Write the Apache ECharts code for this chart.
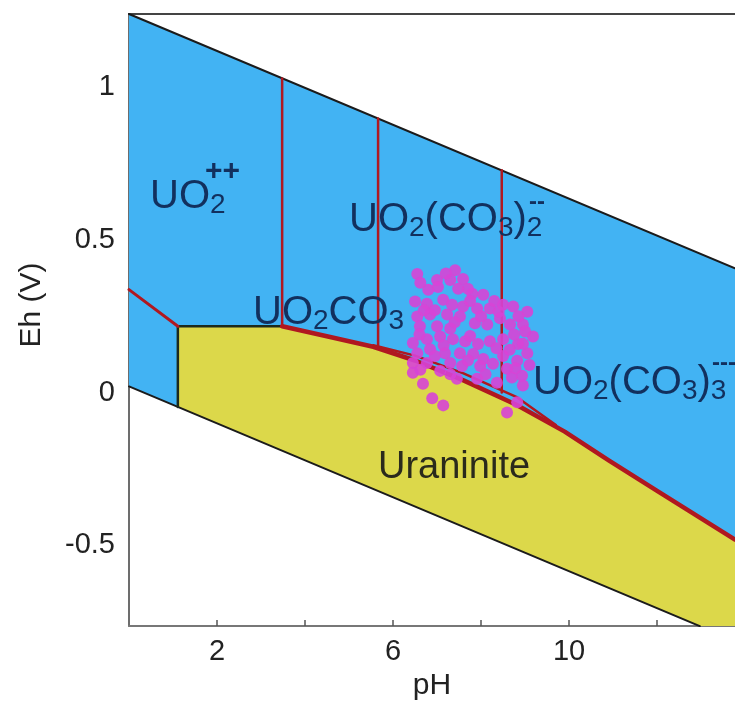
<!DOCTYPE html>
<html>
<head>
<meta charset="utf-8">
<title>Eh-pH uranium</title>
<script src="https://cdn.jsdelivr.net/npm/echarts@6.0.0/dist/echarts.min.js"></script>
<style>
  html, body { margin: 0; padding: 0; background: #fff; }
  #main { width: 735px; height: 706px; }
</style>
</head>
<body>
<div id="main"></div>
<script>
// axis ranges and ticks
var phMin = 0, phMax = 13.77;
var ehMin = -0.765, ehMax = 1.24;
var phTicks = [2, 4, 6, 8, 10, 12];
var phTickLabels = [2, 6, 10];
var ehTickLabels = [-0.5, 0, 0.5, 1];

// water stability limits
var waterUpper = [[0, 1.24], [13.77, 0.407]];
var waterLower = [[0, 0.02], [12.97, -0.765]];

// uraninite field edges
var uraniniteLeft = [[1.11, -0.047], [1.11, 0.217]];
var uraniniteTop = [[1.11, 0.217], [3.48, 0.217]];
var uraniniteBoundary = [[3.48, 0.217], [4.57, 0.182], [5.55, 0.150], [6.5, 0.105], [7.6, 0.040],
    [8.8, -0.040], [9.9, -0.128], [10.9, -0.222], [12.0, -0.322], [13.77, -0.482]];
var carbonateBoundary = [[5.55, 0.155], [6.5, 0.121], [7.6, 0.063], [8.8, -0.014], [9.7, -0.106]];

// aqueous species boundaries
var uo2Boundary = [[0, 0.337], [1.11, 0.217]];
var speciesVerticals = [
    [[3.48, 1.029], [3.48, 0.217]],
    [[5.66, 0.898], [5.66, 0.153]],
    [[8.47, 0.728], [8.47, 0.0]]
];

// groundwater samples
var samplePh = [6.55, 7.41, 7.59, 7.00, 6.80, 7.02, 7.30, 7.80, 8.05, 6.50,
    6.77, 7.14, 7.34, 7.59, 7.91, 8.20, 8.50, 8.73, 9.05, 6.55,
    6.84, 7.23, 7.52, 7.86, 8.14, 8.43, 8.66, 8.95, 9.18, 6.61,
    7.00, 7.30, 6.45, 6.77, 7.07, 7.36, 7.64, 7.93, 8.20, 8.50,
    8.84, 9.05, 6.55, 6.84, 7.18, 7.52, 7.82, 8.05, 8.50, 8.82,
    6.45, 6.77, 7.30, 7.57, 7.98, 8.27, 8.59, 8.93, 6.45, 7.07,
    7.45, 7.91, 8.36, 8.70, 8.95, 6.68, 6.89, 7.14, 8.59, 8.82,
    7.70, 6.95, 7.75, 8.40, 8.85, 6.95, 7.70, 8.65, 9.10, 6.62,
    7.20, 7.48, 8.30, 6.70, 7.40, 8.00, 8.75, 6.60, 7.15, 7.75,
    8.35, 8.95, 6.62, 7.30, 8.10, 8.78, 9.00];
var sampleEh = [0.388, 0.401, 0.372, 0.369, 0.337, 0.346, 0.369, 0.324, 0.320, 0.298,
    0.291, 0.304, 0.288, 0.282, 0.275, 0.275, 0.288, 0.282, 0.265, 0.249,
    0.256, 0.256, 0.249, 0.227, 0.223, 0.243, 0.223, 0.223, 0.184, 0.217,
    0.217, 0.210, 0.162, 0.175, 0.184, 0.175, 0.168, 0.159, 0.168, 0.175,
    0.159, 0.129, 0.129, 0.142, 0.129, 0.129, 0.126, 0.110, 0.120, 0.104,
    0.097, 0.097, 0.097, 0.087, 0.087, 0.094, 0.078, 0.055, 0.065, 0.071,
    0.045, 0.045, 0.032, 0.049, 0.023, 0.029, -0.019, -0.042, -0.065, -0.032,
    0.340, 0.270, 0.300, 0.265, 0.250, 0.120, 0.105, 0.140, 0.090, 0.360,
    0.390, 0.340, 0.300, 0.270, 0.230, 0.250, 0.190, 0.190, 0.155, 0.185,
    0.145, 0.160, 0.075, 0.060, 0.060, 0.080, 0.200];

var blueField = [[0, 1.24], [13.77, 0.407], [13.77, -0.765], [12.97, -0.765], [0, 0.02]];
var yellowField = uraniniteLeft.concat(uraniniteBoundary, [[13.77, -0.765], [12.97, -0.765]]);

var font = 'Liberation Sans, Arial, sans-serif';
var navy = '#12305e';
var red = '#b01820';

function polygonSeries(points, color, z) {
    return {
        type: 'custom',
        silent: true,
        z: z,
        renderItem: function(params, api) {
            if (params.dataIndex !== 0) {
                return null;
            }
            var pts = points.map(function(p) { return api.coord(p); });
            return {
                type: 'polygon',
                shape: { points: pts },
                style: { fill: color }
            };
        },
        data: points
    };
}

function lineSeries(points, color, width, z) {
    return {
        type: 'line',
        data: points,
        symbol: 'none',
        silent: true,
        z: z,
        lineStyle: { color: color, width: width, cap: 'round', join: 'round' }
    };
}

var samples = samplePh.map(function(v, i) { return [v, sampleEh[i]]; });

var series = [
    polygonSeries(blueField, '#42b3f3', 1),
    polygonSeries(yellowField, '#dcd84a', 2),
    lineSeries(waterUpper, '#1b1b1b', 2, 3),
    lineSeries(waterLower, '#1b1b1b', 2, 3),
    lineSeries(uraniniteLeft, '#1c2a1c', 2.5, 3),
    lineSeries(uraniniteTop, '#1c2a1c', 2.5, 3),
    lineSeries(uo2Boundary, red, 3, 4),
    lineSeries(uraniniteBoundary, red, 4.5, 4),
    lineSeries(carbonateBoundary, red, 2.5, 4)
];
speciesVerticals.forEach(function(seg) {
    series.push(lineSeries(seg, red, 2.5, 4));
});
series.push({
    type: 'scatter',
    data: samples,
    symbolSize: 12,
    z: 5,
    itemStyle: { color: '#d744d6', opacity: 0.9 }
});

var rich = {
    m: { fontSize: 40, fontFamily: font, color: navy, lineHeight: 44, verticalAlign: 'middle' },
    s: { fontSize: 28, fontFamily: font, color: navy, lineHeight: 34, verticalAlign: 'bottom' }
};

function label(x, y, text, extra) {
    var style = { text: text, rich: rich, fill: navy, align: 'left', verticalAlign: 'middle', font: '40px ' + font };
    if (extra) {
        for (var k in extra) { style[k] = extra[k]; }
    }
    return { type: 'text', x: x, y: y, z: 10, silent: true, style: style };
}

var chart = echarts.init(document.getElementById('main'));

var option = {
    animation: false,
    grid: { left: 129, right: 0, top: 14, bottom: 73 },
    xAxis: [{
        type: 'value',
        min: phMin,
        max: phMax,
        name: 'pH',
        nameLocation: 'middle',
        nameGap: 44,
        nameTextStyle: { fontSize: 30, color: '#222', fontFamily: font },
        axisLine: { show: true, onZero: false, lineStyle: { color: '#777', width: 2 } },
        axisTick: { show: true, inside: true, length: 6, customValues: phTicks, lineStyle: { color: '#555', width: 1.5 } },
        axisLabel: { customValues: phTickLabels, fontSize: 29, color: '#222', fontFamily: font, margin: 11 },
        splitLine: { show: false }
    }, {
        type: 'value',
        position: 'top',
        min: phMin,
        max: phMax,
        axisLine: { show: true, onZero: false, lineStyle: { color: '#444', width: 2 } },
        axisTick: { show: false },
        axisLabel: { show: false },
        splitLine: { show: false }
    }],
    yAxis: {
        type: 'value',
        min: ehMin,
        max: ehMax,
        name: 'Eh (V)',
        nameLocation: 'middle',
        nameGap: 82,
        nameTextStyle: { fontSize: 30, color: '#222', fontFamily: font, padding: [0, 0, 0, 30] },
        axisLine: { show: true, onZero: false, lineStyle: { color: '#6d6d6d', width: 2 } },
        axisTick: { show: false },
        axisLabel: { customValues: ehTickLabels, fontSize: 29, color: '#222', fontFamily: font, margin: 14 },
        splitLine: { show: false }
    },
    series: series,
    graphic: [
        label(150, 197, '{m|UO}{s|2}'),
        label(205, 172, '++', { font: 'bold 30px ' + font }),
        label(253, 313, '{m|UO}{s|2}{m|CO}{s|3}'),
        label(349, 220, '{m|UO}{s|2}{m|(CO}{s|3}{m|)}{s|2}'),
        label(529, 202, '--', { font: 'bold 24px ' + font }),
        label(533, 383, '{m|UO}{s|2}{m|(CO}{s|3}{m|)}{s|3}'),
        label(712, 363, '----', { font: 'bold 24px ' + font }),
        label(378, 468, 'Uraninite', { fill: '#2a2a1c', font: '38px ' + font })
    ]
};

chart.setOption(option);
</script>
</body>
</html>
